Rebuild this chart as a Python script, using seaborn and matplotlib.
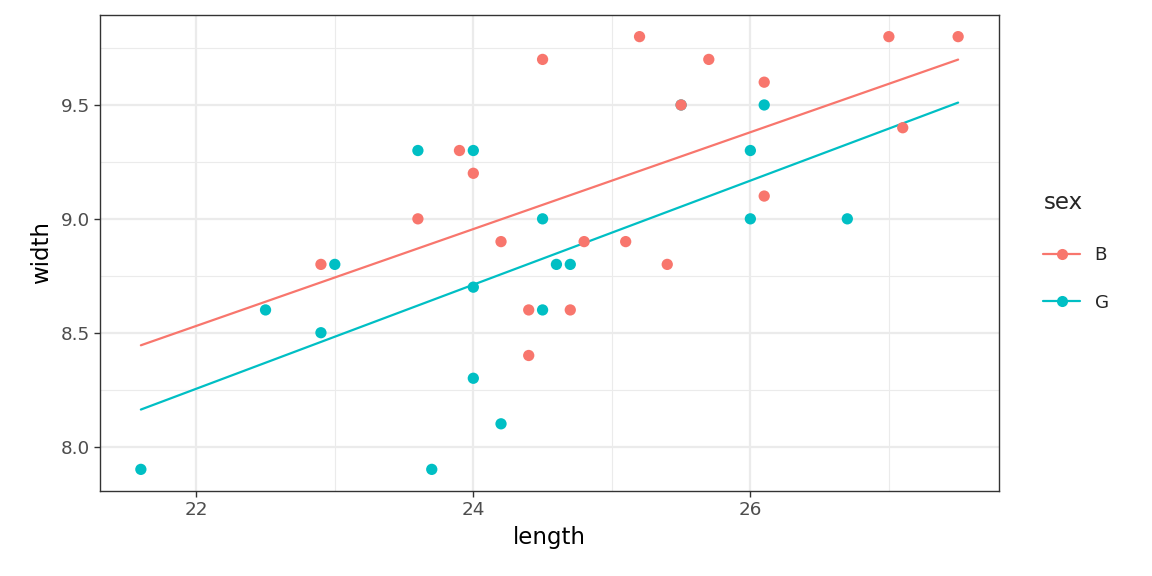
import numpy as np
import pandas as pd
import seaborn as sns
import matplotlib
matplotlib.use("Agg")
import matplotlib.pyplot as plt
from matplotlib.lines import Line2D
from matplotlib.ticker import MultipleLocator

# data
boys_length = [22.9, 23.6, 23.9, 24.0, 24.2, 24.4, 24.4, 24.5, 24.7, 24.8,
               25.1, 25.2, 25.4, 25.5, 25.7, 26.1, 26.1, 27.0, 27.1, 27.5]
boys_width = [8.8, 9.0, 9.3, 9.2, 8.9, 8.6, 8.4, 9.7, 8.6, 8.9,
              8.9, 9.8, 8.8, 9.5, 9.7, 9.6, 9.1, 9.8, 9.4, 9.8]
girls_length = [21.6, 22.5, 22.9, 23.0, 23.6, 23.7, 24.0, 24.0, 24.0, 24.2,
                24.5, 24.5, 24.6, 24.7, 25.5, 26.0, 26.0, 26.1, 26.7]
girls_width = [7.9, 8.6, 8.5, 8.8, 9.3, 7.9, 9.3, 8.7, 8.3, 8.1,
               9.0, 8.6, 8.8, 8.8, 9.5, 9.3, 9.0, 9.5, 9.0]
sex_levels = ["B", "G"]
colors = {"B": "#F8766D", "G": "#00BFC4"}

df = pd.DataFrame({
    "length": girls_length + boys_length,
    "width": girls_width + boys_width,
    "sex": ["G"] * len(girls_length) + ["B"] * len(boys_length),
})

# fitted lines per group over the full range of length
xr = np.array([df["length"].min(), df["length"].max()])
fits = []
for s in sex_levels:
    sub = df[df["sex"] == s]
    b, a = np.polyfit(sub["length"], sub["width"], 1)
    fits.append(pd.DataFrame({"length": xr, "width": a + b * xr, "sex": s}))
fit_df = pd.concat(fits, ignore_index=True)

sns.set_theme(style="white")
fig = plt.figure(figsize=(11.52, 5.76), dpi=100)
ax = fig.add_axes([100 / 1152, 1 - 491 / 576, 899 / 1152, 476 / 576])

sns.lineplot(data=fit_df, x="length", y="width", hue="sex", palette=colors,
             hue_order=sex_levels, linewidth=1.6, ax=ax, legend=False, zorder=2)
sns.scatterplot(data=df, x="length", y="width", hue="sex", palette=colors,
                hue_order=sex_levels, s=66, linewidth=0, ax=ax, legend=False, zorder=3)

xpad = (df["length"].max() - df["length"].min()) * 0.05
ypad = (df["width"].max() - df["width"].min()) * 0.05
ax.set_xlim(df["length"].min() - xpad, df["length"].max() + xpad)
ax.set_ylim(df["width"].min() - ypad, df["width"].max() + ypad)

ax.xaxis.set_minor_locator(MultipleLocator(1))
ax.yaxis.set_minor_locator(MultipleLocator(0.25))
ax.set_xticks([22, 24, 26])
ax.set_xticklabels(["22", "24", "26"])
ax.set_yticks([8.0, 8.5, 9.0, 9.5])
ax.set_yticklabels(["8.0", "8.5", "9.0", "9.5"])

ax.grid(which="major", color="#EBEBEB", linewidth=1.6)
ax.grid(which="minor", color="#EBEBEB", linewidth=0.8)
ax.set_axisbelow(True)
for sp in ax.spines.values():
    sp.set_color("#333333")
    sp.set_linewidth(1.0)
ax.tick_params(which="major", length=4.1, width=1.0, color="#333333",
               labelsize=13.2, labelcolor="#4D4D4D", pad=3, left=True, bottom=True)
ax.tick_params(which="minor", length=0)
ax.set_xlabel("length", fontsize=16.5, color="black", labelpad=5)
ax.set_ylabel("width", fontsize=16.5, color="black", labelpad=6)

handles = [Line2D([0], [0], color=colors[s], marker="o", markersize=8,
                  linewidth=1.6, markeredgewidth=0) for s in sex_levels]
leg = fig.legend(handles, sex_levels, title="sex", loc="upper left",
                 bbox_to_anchor=(1036 / 1152, 1 - 184 / 576), frameon=False,
                 fontsize=13.2, title_fontsize=16.5, handlelength=2.0,
                 labelspacing=1.6, handletextpad=0.8, borderaxespad=0)
leg._legend_box.align = "left"
leg._legend_box.sep = 23
for h in leg.legend_handles:
    pass
# nudge the entries right relative to the title
leg._legend_handle_box.set_offset = leg._legend_handle_box.set_offset

fig.savefig("out.png", dpi=100)
